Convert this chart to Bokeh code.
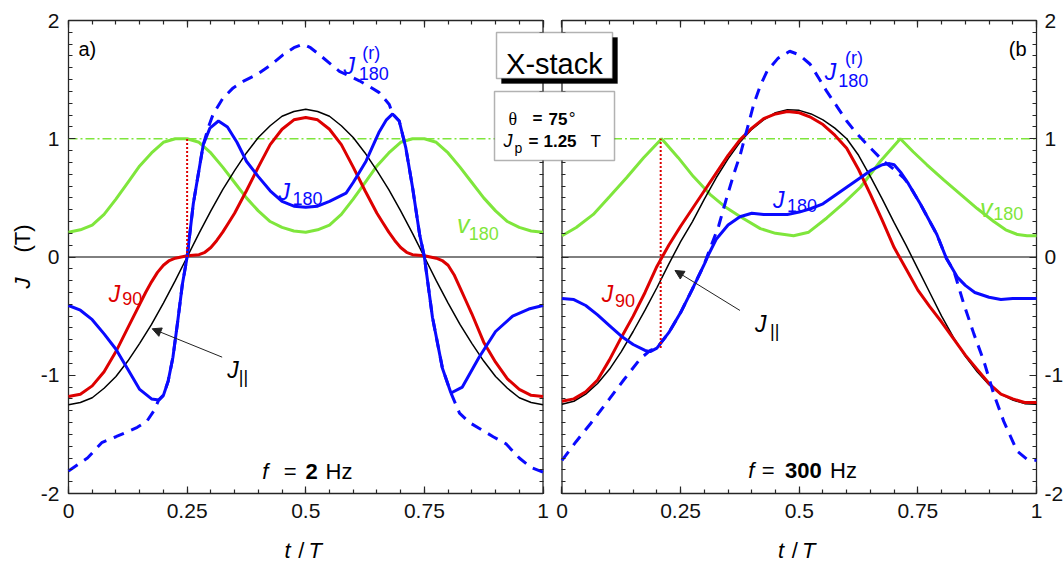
import math
from bokeh.plotting import figure
from bokeh.models import (Range1d, LinearAxis, FixedTicker, CustomJSTickFormatter,
                          Label, BoxAnnotation, Arrow, NormalHead)
from bokeh.embed import file_html
from bokeh.resources import INLINE

# ------------------------------------------------------------------ data
OFFSET = 1.04                     # right panel drawn shifted on the shared x scale
GRID = [round(0.025 * i, 3) for i in range(41)]

# ---- panel a)  f = 2 Hz
a_par = [-1.25, -1.23, -1.19, -1.11, -1.01, -0.88, -0.73, -0.57, -0.39, -0.20, 0.0,
         0.20, 0.39, 0.57, 0.73, 0.88, 1.01, 1.11, 1.19, 1.23, 1.25,
         1.23, 1.19, 1.11, 1.01, 0.88, 0.73, 0.57, 0.39, 0.20, 0.0,
         -0.20, -0.39, -0.57, -0.73, -0.88, -1.01, -1.11, -1.19, -1.23, -1.25]
a_j90_t = [0, 0.025, 0.05, 0.075, 0.1, 0.125, 0.15, 0.1625, 0.175, 0.1875, 0.2, 0.2125,
           0.225, 0.2375, 0.25, 0.2625, 0.275, 0.2875, 0.3, 0.3125, 0.325, 0.3375, 0.35,
           0.375, 0.4, 0.425, 0.45, 0.475, 0.5, 0.525, 0.55, 0.575, 0.6, 0.625, 0.65,
           0.6625, 0.675, 0.6875, 0.7, 0.7125, 0.725, 0.7375, 0.75, 0.7625, 0.775, 0.7875,
           0.8, 0.8125, 0.825, 0.8375, 0.85, 0.875, 0.9, 0.925, 0.95, 0.975, 1.0]
a_j90 = [-1.18, -1.16, -1.09, -0.97, -0.80, -0.60, -0.40, -0.30, -0.21, -0.13, -0.07, -0.03,
         -0.01, 0.0, 0.01, 0.015, 0.02, 0.04, 0.08, 0.14, 0.21, 0.29, 0.37,
         0.56, 0.76, 0.95, 1.08, 1.16, 1.18, 1.16, 1.08, 0.95, 0.76, 0.56, 0.37,
         0.29, 0.21, 0.14, 0.08, 0.04, 0.02, 0.015, 0.01, 0.0, -0.01, -0.03,
         -0.07, -0.15, -0.26, -0.37, -0.48, -0.72, -0.89, -1.03, -1.12, -1.17, -1.18]
a_v180 = [0.21, 0.23, 0.27, 0.36, 0.49, 0.63, 0.77, 0.88, 0.97, 1.0, 1.0,
          0.97, 0.88, 0.76, 0.63, 0.50, 0.39, 0.30, 0.25, 0.22, 0.21,
          0.23, 0.27, 0.36, 0.49, 0.63, 0.77, 0.88, 0.97, 1.0, 1.0,
          0.97, 0.88, 0.76, 0.63, 0.50, 0.39, 0.30, 0.25, 0.22, 0.21]
a_j180_t = [0, 0.025, 0.05, 0.075, 0.1, 0.125, 0.15, 0.175, 0.19, 0.2, 0.21, 0.22, 0.23,
            0.24, 0.25, 0.263, 0.284, 0.298, 0.316, 0.335, 0.355, 0.375, 0.4, 0.425,
            0.45, 0.475, 0.5, 0.525, 0.55, 0.585, 0.6, 0.627, 0.655, 0.67, 0.683, 0.697,
            0.711, 0.725, 0.74, 0.75, 0.767, 0.788, 0.806, 0.83, 0.865, 0.9, 0.936, 0.97, 1.0]
a_j180 = [-0.41, -0.45, -0.53, -0.65, -0.78, -0.95, -1.12, -1.20, -1.21, -1.17, -1.05,
          -0.85, -0.55, -0.23, 0.0, 0.45, 0.95, 1.09, 1.15, 1.10, 0.97, 0.81, 0.68, 0.56,
          0.47, 0.43, 0.42, 0.43, 0.47, 0.54, 0.63, 0.81, 1.06, 1.16, 1.21, 1.15,
          0.92, 0.59, 0.19, 0.0, -0.51, -0.94, -1.15, -1.10, -0.85, -0.63, -0.50, -0.44, -0.41]
a_j180r_t = [0, 0.04, 0.07, 0.1, 0.123, 0.145, 0.165, 0.18, 0.19, 0.2, 0.21, 0.22, 0.23,
             0.24, 0.25, 0.263, 0.284, 0.295, 0.305, 0.325, 0.347, 0.37, 0.396, 0.425,
             0.452, 0.475, 0.494, 0.51, 0.529, 0.55, 0.571, 0.592, 0.613, 0.635, 0.655,
             0.676, 0.683, 0.697, 0.711, 0.725, 0.74, 0.75, 0.767, 0.788, 0.806, 0.824,
             0.845, 0.866, 0.895, 0.922, 0.95, 0.975, 1.0]
a_j180r = [-1.81, -1.70, -1.57, -1.52, -1.48, -1.44, -1.39, -1.30, -1.21, -1.17, -1.05,
           -0.85, -0.55, -0.23, 0.0, 0.45, 0.95, 1.10, 1.21, 1.34, 1.43, 1.49, 1.54, 1.62,
           1.71, 1.77, 1.80, 1.77, 1.71, 1.64, 1.57, 1.53, 1.49, 1.44, 1.39,
           1.29, 1.21, 1.15, 0.92, 0.59, 0.19, 0.0, -0.51, -0.94, -1.15, -1.32,
           -1.40, -1.45, -1.52, -1.58, -1.70, -1.78, -1.82]

# ---- panel b)  f = 300 Hz
b_par = [-1.245, -1.22, -1.16, -1.07, -0.95, -0.80, -0.63, -0.45, -0.26, -0.06, 0.13,
         0.30, 0.49, 0.67, 0.83, 0.97, 1.08, 1.16, 1.22, 1.245, 1.24,
         1.21, 1.16, 1.09, 1.00, 0.86, 0.68, 0.49, 0.29, 0.10, -0.10,
         -0.30, -0.50, -0.68, -0.84, -0.97, -1.08, -1.16, -1.21, -1.24, -1.245]
b_j90 = [-1.22, -1.20, -1.14, -1.04, -0.87, -0.68, -0.50, -0.30, -0.08, 0.10, 0.26,
         0.41, 0.56, 0.71, 0.86, 0.99, 1.09, 1.17, 1.21, 1.23, 1.22,
         1.18, 1.12, 1.03, 0.92, 0.74, 0.53, 0.31, 0.08, -0.10, -0.28,
         -0.42, -0.55, -0.69, -0.83, -0.95, -1.07, -1.16, -1.20, -1.23, -1.23]
b_j180_t = [0, 0.025, 0.05, 0.075, 0.1, 0.125, 0.15, 0.175, 0.186, 0.2, 0.225, 0.25,
            0.275, 0.3, 0.31, 0.325, 0.35, 0.375, 0.4, 0.425, 0.45, 0.475, 0.5, 0.525,
            0.55, 0.575, 0.6, 0.625, 0.65, 0.675, 0.69, 0.7, 0.715, 0.73, 0.755, 0.79,
            0.81, 0.833, 0.85, 0.87, 0.9, 0.925, 0.95, 1.0]
b_j180 = [-0.35, -0.36, -0.41, -0.49, -0.58, -0.67, -0.74, -0.79, -0.80, -0.77, -0.64,
          -0.47, -0.27, -0.06, 0.03, 0.15, 0.27, 0.34, 0.37, 0.36, 0.36, 0.36, 0.38, 0.41,
          0.45, 0.52, 0.59, 0.66, 0.73, 0.78, 0.79, 0.78, 0.71, 0.62, 0.45, 0.19,
          -0.01, -0.17, -0.24, -0.30, -0.34, -0.36, -0.35, -0.35]
b_j180r_t = [0, 0.03, 0.06, 0.1, 0.13, 0.165, 0.186, 0.2, 0.225, 0.25, 0.275, 0.3, 0.31,
             0.33, 0.347, 0.362, 0.376, 0.39, 0.404, 0.418, 0.432, 0.455, 0.48, 0.5,
             0.523, 0.54, 0.558, 0.58, 0.6, 0.62, 0.643, 0.675, 0.706, 0.72, 0.73,
             0.755, 0.79, 0.81, 0.826, 0.847, 0.868, 0.889, 0.91, 0.931, 0.959, 0.98, 1.0]
b_j180r = [-1.72, -1.56, -1.41, -1.20, -1.04, -0.86, -0.79, -0.77, -0.64, -0.47, -0.27,
           -0.06, 0.05, 0.26, 0.50, 0.70, 0.87, 1.08, 1.29, 1.45, 1.57, 1.68, 1.74, 1.71,
           1.63, 1.52, 1.40, 1.27, 1.15, 1.05, 0.95, 0.82, 0.72, 0.67, 0.62,
           0.45, 0.19, -0.01, -0.12, -0.40, -0.65, -0.88, -1.16, -1.39, -1.64, -1.71, -1.72]
b_v180_t = [0, 0.03, 0.066, 0.1, 0.136, 0.172, 0.21, 0.245, 0.277, 0.312, 0.345, 0.376,
            0.418, 0.45, 0.488, 0.52, 0.558, 0.595, 0.629, 0.671, 0.713, 0.74, 0.769,
            0.805, 0.84, 0.875, 0.91, 0.935, 0.96, 0.98, 1.0]
b_v180 = [0.18, 0.25, 0.36, 0.51, 0.67, 0.84, 1.0, 0.84, 0.68, 0.53, 0.42, 0.34,
          0.24, 0.20, 0.18, 0.21, 0.33, 0.46, 0.59, 0.81, 1.0, 0.89, 0.78,
          0.65, 0.53, 0.41, 0.30, 0.23, 0.19, 0.18, 0.18]

# red dotted markers (one per panel)
mark_t = [0.25, 0.208]
mark_lo = [0.0, -0.77]
mark_hi = [1.0, 1.0]

x_major = [0, 0.25, 0.5, 0.75, 1.0]
y_major = [-2, -1, 0, 1, 2]

# ------------------------------------------------------------------ styling
BLUE = "#0a0aff"
RED = "#dd0000"
GREEN = "#7fe63c"
FRAME = "#262626"
FONT = "Liberation Sans"

W, H = 1064, 563
PX_X = (1036 - 68) / 2.04      # pixels per x unit
PX_Y = (493 - 20) / 4.0        # pixels per y unit
x_lo = -68 / PX_X
x_hi = x_lo + W / PX_X
y_hi = 2 + 20 / PX_Y
y_lo = y_hi - H / PX_Y

p = figure(width=W, height=H, output_backend="svg", toolbar_location=None,
           x_range=Range1d(x_lo, x_hi), y_range=Range1d(y_lo, y_hi),
           min_border=0, x_axis_location=None, y_axis_location=None)
p.outline_line_color = None
p.grid.grid_line_color = None
p.background_fill_color = "white"
p.border_fill_color = "white"

panels = [0.0, OFFSET]
x_ticks = [o + v for o in panels for v in x_major]
x_minor = [o + round(0.05 * i, 2) for o in panels for i in range(21)]
y_minor = [round(-2 + 0.1 * i, 1) for i in range(41)]

xfmt = CustomJSTickFormatter(code=f"""
const v = tick > 1.02 ? tick - {OFFSET} : tick;
return String(Math.round(v * 100) / 100);""")
yfmt = CustomJSTickFormatter(code="return String(tick);")


def labelled_axis(side, loc, ticks, minor, fmt, standoff):
    ax = LinearAxis(ticker=FixedTicker(ticks=ticks, minor_ticks=minor),
                    formatter=fmt, fixed_location=loc)
    ax.axis_line_color = None
    ax.major_tick_in, ax.major_tick_out = 7, 0
    ax.minor_tick_in, ax.minor_tick_out = 4, 0
    ax.major_tick_line_color = ax.minor_tick_line_color = FRAME
    ax.major_tick_line_width = ax.minor_tick_line_width = 1.2
    ax.major_label_text_font = FONT
    ax.major_label_text_font_size = "21px"
    ax.major_label_text_color = "#111111"
    ax.major_label_standoff = standoff
    p.add_layout(ax, side)


def tick_only_axis(side, loc, ticks, minor):
    # ticks without labels: drawn as minor ticks of two label-less axes
    for pos, length in ((minor, 4), (ticks, 7)):
        ax = LinearAxis(ticker=FixedTicker(ticks=[], minor_ticks=pos), fixed_location=loc)
        ax.axis_line_color = None
        ax.major_tick_in = ax.major_tick_out = 0
        ax.minor_tick_in, ax.minor_tick_out = length, 0
        ax.minor_tick_line_color = FRAME
        ax.minor_tick_line_width = 1.2
        p.add_layout(ax, side)


labelled_axis("below", -2, x_ticks, x_minor, xfmt, 10)
labelled_axis("left", 0.0, y_major, y_minor, yfmt, 9)
labelled_axis("right", OFFSET + 1.0, y_major, y_minor, yfmt, 8)
tick_only_axis("above", 2, x_ticks, x_minor)
tick_only_axis("right", 1.0, y_major, y_minor)
tick_only_axis("left", OFFSET, y_major, y_minor)

# panel frames
p.quad(left=panels, right=[o + 1 for o in panels], bottom=[-2, -2], top=[2, 2],
       fill_color=None, line_color=FRAME, line_width=1.3)

# reference lines
p.multi_line(xs=[[o, o + 1] for o in panels], ys=[[0, 0], [0, 0]],
             line_color="black", line_width=1)
p.multi_line(xs=[[o, o + 1] for o in panels], ys=[[1, 1], [1, 1]],
             line_color=GREEN, line_width=1.5, line_dash="9 3 2 3")


def curve(off, t, v, **kw):
    p.line([off + x for x in t], v, **kw)


# panel a
curve(0, GRID, a_v180, line_color=GREEN, line_width=3)
curve(0, GRID, a_par, line_color="black", line_width=1.5)
curve(0, a_j90_t, a_j90, line_color=RED, line_width=3)
curve(0, a_j180r_t, a_j180r, line_color=BLUE, line_width=3, line_dash="11 8")
curve(0, a_j180_t, a_j180, line_color=BLUE, line_width=3)
# panel b
curve(OFFSET, b_v180_t, b_v180, line_color=GREEN, line_width=3)
curve(OFFSET, GRID, b_par, line_color="black", line_width=1.5)
curve(OFFSET, GRID, b_j90, line_color=RED, line_width=3)
curve(OFFSET, b_j180r_t, b_j180r, line_color=BLUE, line_width=3, line_dash="11 8")
curve(OFFSET, b_j180_t, b_j180, line_color=BLUE, line_width=3)

# red dotted markers
p.segment(x0=[o + t for o, t in zip(panels, mark_t)], y0=mark_lo,
          x1=[o + t for o, t in zip(panels, mark_t)], y1=mark_hi,
          line_color=RED, line_width=2, line_dash="2 2")

# ------------------------------------------------------------------ annotations
p.add_layout(BoxAnnotation(left=0.9125, right=1.157, top=1.856, bottom=1.467,
                           fill_color="black", fill_alpha=1.0, line_color="black"))
p.add_layout(BoxAnnotation(left=0.902, right=1.1465, top=1.898, bottom=1.509,
                           fill_color="white", fill_alpha=1.0, line_color="black",
                           line_width=1.5))
p.add_layout(BoxAnnotation(left=0.8978, right=1.1507, top=1.3996, bottom=0.816,
                           fill_color="white", fill_alpha=1.0, line_color="black",
                           line_width=1.5))


def label(x, y, text, size, style="normal", color="black", align="left",
          font=FONT, angle=0.0, baseline="alphabetic"):
    p.add_layout(Label(x=x, y=y, text=text, text_font=font,
                       text_font_size=f"{size}px", text_font_style=style,
                       text_color=color, text_align=align,
                       text_baseline=baseline, angle=angle))


label(1.024, 1.636, "X-stack", 29, align="center")
label(0.9275, 1.171, "θ", 18, font="Liberation Serif")
label(0.978, 1.171, "=", 17, "bold")
label(1.0116, 1.171, "75", 17, "bold")
label(1.054, 1.171, "°", 17)
label(0.9167, 0.977, "J", 18, "italic")
label(0.940, 0.926, "p", 14)
label(0.9694, 0.977, "=", 17, "bold")
label(1.001, 0.977, "1.25", 17, "bold")
label(1.100, 0.977, "T", 17)

label(0.021, 1.763, "a)", 20)
label(OFFSET + 0.979, 1.755, "(b", 20, align="right")

for off, (jx, jy, rx, ry, sx, sy) in [(0, (0.5795, 1.619, 0.619, 1.729, 0.6118, 1.552)),
                                      (OFFSET, (0.554, 1.563, 0.5964, 1.679, 0.5823, 1.493))]:
    label(off + jx, jy, "J", 23, "italic", BLUE)
    label(off + rx, ry, "(r)", 18, color=BLUE)
    label(off + sx, sy, "180", 18, color=BLUE)

for off, (jx, jy, sx, sy) in [(0, (0.4426, 0.5455, 0.472, 0.495)),
                              (OFFSET, (0.4447, 0.478, 0.4742, 0.4355))]:
    label(off + jx, jy, "J", 23, "italic", BLUE)
    label(off + sx, sy, "180", 18, color=BLUE)

for off, (jx, jy, sx, sy) in [(0, (0.819, 0.283, 0.8436, 0.199)),
                              (OFFSET, (0.881, 0.4186, 0.909, 0.368))]:
    label(off + jx, jy, "v", 25, "italic", GREEN)
    label(off + sx, sy, "180", 18, color=GREEN)

for off, (jx, jy, sx, sy) in [(0, (0.085, -0.3087, 0.1132, -0.351)),
                              (OFFSET, (0.0837, -0.3087, 0.1117, -0.3679))]:
    label(off + jx, jy, "J", 23, "italic", RED)
    label(off + sx, sy, "90", 18, color=RED)

for off, (jx, jy, sx, sy, ax0, ay0, ax1, ay1) in [
        (0, (0.3345, -0.9598, 0.359, -1.019, 0.3238, -0.847, 0.1764, -0.607)),
        (OFFSET, (0.4067, -0.5708, 0.4384, -0.6216, 0.375, -0.452, 0.2381, -0.114))]:
    label(off + jx, jy, "J", 23, "italic")
    label(off + sx, sy, "||", 18)
    p.add_layout(Arrow(end=NormalHead(size=9, fill_color="#222222", line_color="#222222"),
                       x_start=off + ax0, y_start=ay0, x_end=off + ax1, y_end=ay1,
                       line_color="#222222", line_width=1))

# frequency labels
label(0.4082, -1.814, "f", 22, "italic")
label(0.4537, -1.814, "=", 22)
label(0.4995, -1.814, "2", 22, "bold")
label(0.5416, -1.814, "Hz", 22)
label(OFFSET + 0.3926, -1.805, "f", 22, "italic")
label(OFFSET + 0.4209, -1.805, "=", 22)
label(OFFSET + 0.470, -1.805, "300", 22, "bold")
label(OFFSET + 0.5648, -1.805, "Hz", 22)

# axis titles
label(-0.097, -0.2664, "J", 22, "italic", angle=math.pi / 2, baseline="middle")
label(-0.097, 0.038, "(T)", 22, angle=math.pi / 2, baseline="middle")
for off in panels:
    label(off + 0.455, -2.485, "t", 22, "italic")
    label(off + 0.484, -2.485, "/", 22)
    label(off + 0.506, -2.485, "T", 22, "italic")

open("out.html", "w").write(file_html(p, INLINE))
